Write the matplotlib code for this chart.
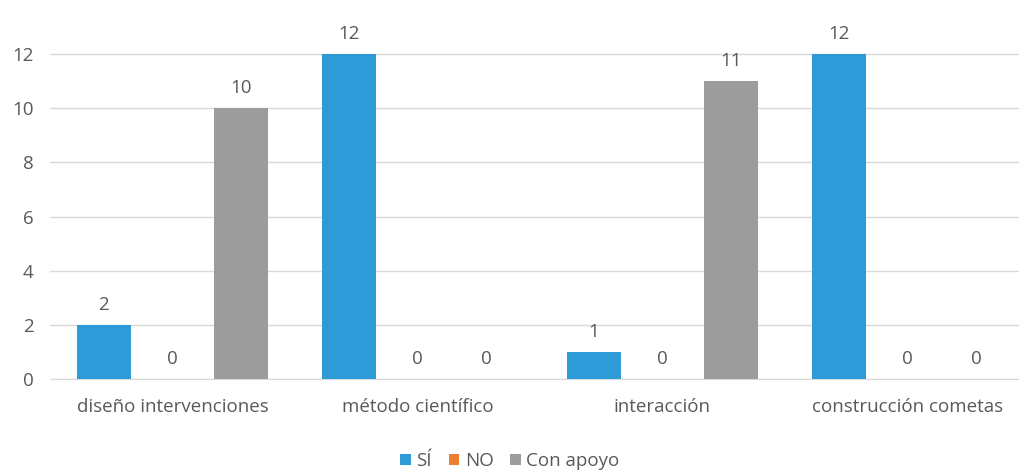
import numpy as np
import matplotlib.pyplot as plt

categories = ["diseño intervenciones", "método científico", "interacción", "construcción cometas"]
series_names = ["SÍ", "NO", "Con apoyo"]
si = [2, 12, 1, 12]
no = [0, 0, 0, 0]
con_apoyo = [10, 0, 11, 0]
yticks = [0, 2, 4, 6, 8, 10, 12]

colors = ["#2E9BD8", "#ED7D31", "#9C9C9C"]
text_col = "#595959"

plt.rcParams["font.family"] = ["Open Sans", "DejaVu Sans"]

fig = plt.figure(figsize=(10.2, 4.75), dpi=100)
ax = fig.add_axes([50 / 1020, 96 / 475, 980 / 1020, 379 / 475])

x = np.arange(len(categories))
width = 0.22
offset = 0.28
for k, (vals, name) in enumerate(zip([si, no, con_apoyo], series_names)):
    pos = x + (k - 1) * offset
    bars = ax.bar(pos, vals, width, color=colors[k], label=name, zorder=3)
    for b, v in zip(bars, vals):
        ax.annotate(str(v), (b.get_x() + b.get_width() / 2, v), xytext=(0, 8),
                    textcoords="offset points", ha="center", va="bottom",
                    fontsize=13.5, color=text_col)

ax.set_xlim(-0.5, 3.5)
ax.set_ylim(0, 14)
ax.set_yticks(yticks)
ax.set_xticks(x)
ax.set_xticklabels(categories)
ax.tick_params(axis="both", length=0, labelsize=13.5, colors=text_col)
ax.tick_params(axis="x", pad=14)
ax.tick_params(axis="y", pad=12)
ax.grid(axis="y", color="#D9D9D9", linewidth=1, zorder=0)
for s in ["top", "right", "left"]:
    ax.spines[s].set_visible(False)
ax.spines["bottom"].set_color("#D9D9D9")

fig.legend(loc="lower center", bbox_to_anchor=(0.5, -0.025), ncol=3, frameon=False,
           fontsize=13.5, labelcolor=text_col, handlelength=0.55, handleheight=0.55,
           handletextpad=0.3, columnspacing=0.9)

fig.savefig("out.png", dpi=100)
